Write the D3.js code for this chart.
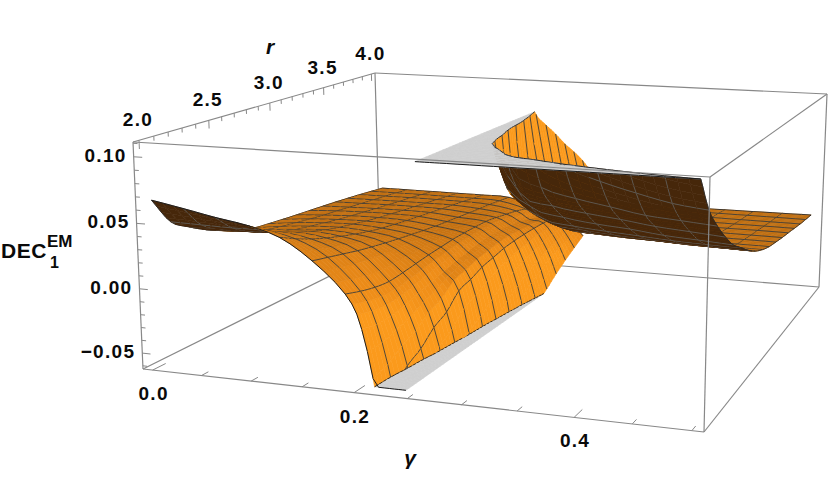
<!DOCTYPE html>
<html><head><meta charset="utf-8">
<script src="https://cdnjs.cloudflare.com/ajax/libs/d3/7.8.5/d3.min.js"></script>
<style>html,body{margin:0;padding:0;background:#fff}svg{display:block}text{font-family:"Liberation Sans",Arial,sans-serif;font-weight:700;fill:#0a0a0a}</style>
</head><body><svg id="c" width="830" height="502"></svg>
<script>
// ---------- data ----------
const rValues=[2,2.125,2.25,2.375,2.5,2.625,2.75,2.875,3,3.125,3.25,3.375,3.5,3.625,3.75,3.875,4];
const gammaLeft=[0,0.03125,0.0625,0.09375,0.125,0.15625,0.1875,0.203,0.21875,0.234,0.2445];
const zLeft=[
[.0665,.045,.036,.0285,.0225,.0175,.0143,.0128,.0115,.0105,.0095,.0085,.0075,.0062,.005,.0035,.002],
[.062,.0445,.0365,.0295,.024,.02,.0175,.0155,.0137,.012,.0108,.0093,.0079,.0065,.0052,.0036,.002],
[.0572,.044,.0365,.030,.0255,.022,.0195,.0172,.015,.0132,.0116,.0098,.0084,.0068,.0054,.0037,.002],
[.053,.044,.0375,.032,.0275,.0235,.0205,.018,.0155,.0135,.0118,.0100,.0085,.0069,.0054,.0037,.002],
[.046,.0395,.034,.0295,.0255,.022,.019,.0165,.0145,.0128,.0113,.0098,.0083,.0068,.0053,.0036,.002],
[.0305,.0275,.0245,.0215,.019,.0168,.0148,.013,.0112,.0098,.0086,.0074,.0064,.0053,.0043,.003,.0015],
[.008,.004,.001,-.0005,.0005,.002,.0035,.0045,.0055,.0058,.0058,.0055,.004,.002,.0,-.003,-.006],
[-.017,-.02,-.02,-.018,-.015,-.012,-.009,-.006,-.004,-.002,-.001,-.001,-.002,-.004,-.007,-.01,-.013],
[-.075,-.068,-.0575,-.051,-.041,-.035,-.024,-.0205,-.016,-.0135,-.011,-.0098,-.0092,-.009,-.0092,-.0098,-.011],
[-.15,-.135,-.12,-.11,-.10,-.09,-.08,-.07,-.06,-.05,-.043,-.037,-.032,-.028,-.025,-.023,-.021],
[-.3,-.28,-.26,-.24,-.22,-.2,-.17,-.14,-.12,-.1,-.08,-.065,-.057,-.049,-.042,-.036,-.03]
];
const gammaRight=[0.2525,0.2656,0.28125,0.3125,0.34375,0.375,0.40625,0.4375,0.46875,0.5];
const zRight=[
[.6,.55,.5,.45,.41,.37,.33,.29,.18,.13,.105,.0925,.081,.0685,.0575,.0455,.031],
[.45,.38,.32,.27,.22,.175,.125,.095,.08,.066,.053,.042,.033,.025,.018,.012,.0075],
[.32,.25,.19,.13,.09,.072,.056,.043,.033,.025,.019,.015,.0122,.0098,.0078,.0062,.004],
[.2,.15,.102,.0754,.0598,.0463,.0366,.028,.0212,.0164,.0134,.0114,.0099,.0084,.0069,.0057,.0032],
[.17,.122,.085,.0668,.0533,.0415,.0334,.0253,.0194,.0151,.0129,.0111,.0097,.0082,.0068,.0056,.0034],
[.145,.1055,.0786,.063,.05,.0393,.0312,.0239,.0188,.0146,.0127,.011,.0095,.0081,.0067,.0055,.0036],
[.128,.097,.0743,.0603,.048,.0377,.0298,.0232,.0183,.0143,.0125,.0108,.0094,.008,.0067,.0055,.0038],
[.118,.0905,.07,.057,.0452,.036,.0285,.0221,.0178,.014,.0123,.0107,.0093,.0079,.0066,.0055,.004],
[.112,.085,.068,.055,.0436,.035,.0278,.0215,.017,.0138,.0122,.0106,.0093,.0079,.0066,.0055,.0042],
[.108,.082,.066,.053,.042,.0345,.027,.021,.0167,.0137,.012,.0104,.0092,.0078,.0065,.0054,.0045]
];
const gammaTicks=[0,.05,.1,.15,.2,.25,.3,.35,.4,.45,.5];
const gammaLabels=[0,.2,.4];
const rTicks=d3.range(2,4.01,.1);
const rLabels=[2,2.5,3,3.5,4];
const zTicks=d3.range(-.06,.1101,.01);
const zLabels=[-.05,0,.05,.1];
// projection anchors: where the plot box corners fall on the page [x,y]
const boxBottom=[[143,369],[704,432],[819,287],[380,251]];
const boxTop=[[133,142],[710,177],[827,94],[375,73]];
const gammaRange=[-.01,.51], rRange=[1.96,4.04], zRange=[-.0625,.111];
const zClip=[-.0592,.1077];

// ---------- projection ----------
const U=d3.scaleLinear(gammaRange,[0,1]),V=d3.scaleLinear(rRange,[0,1]),W=d3.scaleLinear(zRange,[0,1]);
function quad(q){
 const [x0,y0]=q[0],[x1,y1]=q[1],[x2,y2]=q[2],[x3,y3]=q[3];
 const dx1=x1-x2,dy1=y1-y2,dx2=x3-x2,dy2=y3-y2,dx3=x0-x1+x2-x3,dy3=y0-y1+y2-y3;
 const den=dx1*dy2-dx2*dy1,g=(dx3*dy2-dx2*dy3)/den,h=(dx1*dy3-dx3*dy1)/den;
 const a=x1-x0+g*x1,b=x3-x0+h*x3,d=y1-y0+g*y1,e=y3-y0+h*y3;
 return (u,v)=>{const k=g*u+h*v+1;return [(a*u+b*v+x0)/k,(d*u+e*v+y0)/k];};
}
const H0=quad(boxBottom),H1=quad(boxTop);
function proj(g,r,z){
 const u=U(g),v=V(r),w0=W(z),w=w0*(.97+.03*w0);
 const B=H0(u,v),T=H1(u,v);
 return [B[0]+(T[0]-B[0])*w,B[1]+(T[1]-B[1])*w];
}
const cam=[1.3,-2.2,1.7];
function dist(g,r,z){const x=U(g)-cam[0],y=V(r)-cam[1],q=W(z)*.55-cam[2];return Math.sqrt(x*x+y*y+q*q);}

// ---------- surface sampling ----------
const cr=(a,b,c,d,t)=>.5*(2*b+(c-a)*t+(2*a-5*b+4*c-d)*t*t+(3*b-a-3*c+d)*t*t*t);
function sample1(arr,f){
 const n=arr.length-1,i=Math.min(n-1,Math.floor(f)),t=f-i;
 const at=k=>k<0?2*arr[0]-arr[1]:k>n?2*arr[n]-arr[n-1]:arr[k];
 return cr(at(i-1),at(i),at(i+1),at(i+2),t);
}
function sample2(tab,fi,fj){return sample1(tab.map(col=>sample1(col,fj)),fi);}

const items=[];
const path=pts=>"M"+pts.map(p=>p[0].toFixed(1)+","+p[1].toFixed(1)).join("L");
const orange=d3.scaleLinear([0,.5,1.5,3],["#bf6d10","#d27a14","#ec8b18","#fb9a1c"]).clamp(true);
const [zMin,zMax]=zClip;

function clipPoly(poly,keep,plane){
 const out=[];
 for(let k=0;k<poly.length;k++){
  const a=poly[k],b=poly[(k+1)%poly.length],ia=keep(a[2]),ib=keep(b[2]);
  if(ia)out.push(a);
  if(ia!==ib){const t=(plane-a[2])/(b[2]-a[2]);out.push([a[0]+(b[0]-a[0])*t,a[1]+(b[1]-a[1])*t,plane]);}
 }
 return out;
}
function clipSeg(a,b){
 let t0=0,t1=1;const dz=b[2]-a[2];
 const lim=(z,s)=>{ if(Math.abs(dz)<1e-12)return; const t=(z-a[2])/dz; if(dz*s>0)t1=Math.min(t1,t); else t0=Math.max(t0,t);};
 if((a[2]>zMax&&b[2]>zMax)||(a[2]<zMin&&b[2]<zMin))return null;
 lim(zMax,1);lim(zMin,-1);
 if(t0>=t1)return null;
 const P=t=>[a[0]+(b[0]-a[0])*t,a[1]+(b[1]-a[1])*t,a[2]+(b[2]-a[2])*t];
 return [P(t0),P(t1)];
}
const centroid=poly=>poly.reduce((s,p)=>[s[0]+p[0]/poly.length,s[1]+p[1]/poly.length,s[2]+p[2]/poly.length],[0,0,0]);
function addSeg(a,b,stroke,width,bias){
 const m=[(a[0]+b[0])/2,(a[1]+b[1])/2,(a[2]+b[2])/2];
 items.push({depth:dist(m[0],m[1],m[2])-bias,d:path([proj(...a),proj(...b)]),fill:"none",stroke,width});
}
const isMesh=g=>Math.abs(g*32-Math.round(g*32))<1e-6;

function buildBranch(gammas,tab,boundaryI){
 const subI=3,subJ=4;
 const n=gammas.length-1,m=rValues.length-1;
 for(let i=0;i<n;i++)for(let a=0;a<subI;a++)for(let j=0;j<m;j++)for(let b=0;b<subJ;b++){
  const fi0=i+a/subI,fi1=i+(a+1)/subI,fj0=j+b/subJ,fj1=j+(b+1)/subJ;
  const gOf=f=>sample1(gammas,f),rOf=f=>rValues[0]+(rValues[m]-rValues[0])*f/m;
  const c=(fi,fj)=>[gOf(fi),rOf(fj),sample2(tab,fi,fj)];
  const p00=c(fi0,fj0),p10=c(fi1,fj0),p11=c(fi1,fj1),p01=c(fi0,fj1);
  const poly=[p00,p10,p11,p01];
  const sc=poly.map(p=>proj(p[0],p[1],p[2]));
  let area=0;sc.forEach((s,k)=>{const t=sc[(k+1)%4];area+=s[0]*t[1]-t[0]*s[1];});
  const under=area>0;
  const du=U(p10[0])-U(p00[0])||1e-6,dv=V(p01[1])-V(p00[1])||1e-6;
  const wz=z=>W(z)*.55;
  const sg=((wz(p10[2])-wz(p00[2]))+(wz(p11[2])-wz(p01[2])))/2/du;
  const sr=((wz(p01[2])-wz(p00[2]))+(wz(p11[2])-wz(p10[2])))/2/dv;
  const tone=Math.sqrt(sg*sg+.3*sr*sr);
  const fill=under?"#46270a":orange(tone);
  const mid=clipPoly(clipPoly(poly,z=>z<=zMax,zMax),z=>z>=zMin,zMin);
  if(mid.length>2){
   const ce=centroid(mid);
   items.push({depth:dist(...ce),d:path(mid.map(p=>proj(...p)))+"Z",fill,stroke:fill,width:.6});
   for(let k=0;k<mid.length;k++){const x=mid[k],y=mid[(k+1)%mid.length];
    if((x[2]===zMax&&y[2]===zMax)||(x[2]===zMin&&y[2]===zMin))
     if(Math.hypot(x[0]-y[0],x[1]-y[1])>1e-9)addSeg(x,y,"#1c1c1c",.9,.012);}
  }
  const hi=clipPoly(poly,z=>z>=zMax,zMax).map(p=>[p[0],p[1],zMax]);
  if(hi.length>2){const ce=centroid(hi);items.push({depth:dist(...ce),d:path(hi.map(p=>proj(...p)))+"Z",fill:"#cfcfcf",stroke:"#cfcfcf",width:.6});}
  const lo=clipPoly(poly,z=>z<=zMin,zMin).map(p=>[p[0],p[1],zMin]);
  if(lo.length>2){const ce=centroid(lo);items.push({depth:dist(...ce),d:path(lo.map(p=>proj(...p)))+"Z",fill:"#cfcfcf",stroke:"#cfcfcf",width:.6});}
  const meshCol=under?"#5d5a55":"#3d3d3a";
  if(b===0&&j>0){const s=clipSeg(p00,p10);if(s)addSeg(s[0],s[1],meshCol,.9,.012);}
  if(a===0&&i>0&&isMesh(gammas[i])){const s=clipSeg(p00,p01);if(s)addSeg(s[0],s[1],meshCol,.9,.012);}
  const clamp=p=>[p[0],p[1],Math.max(zMin,Math.min(zMax,p[2]))];
  if(b===0&&j===0)addSeg(clamp(p00),clamp(p10),"#1c1c1c",1,.012);
  if(b===subJ-1&&j===m-1){const s=clipSeg(p01,p11);if(s)addSeg(s[0],s[1],"#2a2a2a",.9,.012);}
  if(i===0&&a===0&&boundaryI===0){const s=clipSeg(p00,p01);if(s)addSeg(s[0],s[1],"#2a2a2a",.9,.012);}
  if(i===n-1&&a===subI-1&&boundaryI===1){const s=clipSeg(p10,p11);if(s)addSeg(s[0],s[1],"#2a2a2a",.9,.012);}
 }
}
buildBranch(gammaLeft,zLeft,0);
buildBranch(gammaRight,zRight,1);
items.sort((p,q)=>q.depth-p.depth);

// ---------- drawing ----------
const svg=d3.select("#c");
const [gA,gB]=gammaRange,[rA,rB]=rRange,[zA,zB]=zRange;
const edge=(a,b)=>path([proj(...a),proj(...b)]);
const backEdges=[
 [[gA,rB,zA],[gB,rB,zA]],[[gA,rA,zA],[gA,rB,zA]],[[gB,rA,zA],[gB,rB,zA]],
 [[gA,rB,zA],[gA,rB,zB]],[[gB,rB,zA],[gB,rB,zB]],
 [[gA,rB,zB],[gB,rB,zB]],[[gA,rA,zB],[gA,rB,zB]],[[gB,rA,zB],[gB,rB,zB]]
];
const frontEdges=[
 [[gA,rA,zA],[gB,rA,zA]],[[gA,rA,zB],[gB,rA,zB]],
 [[gA,rA,zA],[gA,rA,zB]],[[gB,rA,zA],[gB,rA,zB]]
];
const boxCol="#888888";
svg.append("g").selectAll("path").data(backEdges).join("path").attr("d",e=>edge(e[0],e[1])).attr("fill","none").attr("stroke",boxCol).attr("stroke-width",1.2);
svg.append("g").selectAll("path").data(items).join("path").attr("d",d=>d.d).attr("fill",d=>d.fill).attr("stroke",d=>d.stroke).attr("stroke-width",d=>d.width).attr("stroke-linejoin","round");
svg.append("g").selectAll("path").data(frontEdges).join("path").attr("d",e=>edge(e[0],e[1])).attr("fill","none").attr("stroke",boxCol).attr("stroke-width",1.2);

const near=(v,list)=>list.some(l=>Math.abs(l-v)<1e-6);
const tickG=svg.append("g").attr("fill","none").attr("stroke",boxCol).attr("stroke-width",1);
tickG.selectAll("path.g").data(gammaTicks).join("path").attr("class","g").attr("d",g=>edge([g,rA,zA],[g,rA+(near(g,gammaLabels)?.09:.05),zA]));
tickG.selectAll("path.r").data(rTicks).join("path").attr("class","r").attr("d",r=>edge([gA,r,zB],[gA,r,zB-(near(r,rLabels)?.0065:.0035)]));
tickG.selectAll("path.z").data(zTicks).join("path").attr("class","z").attr("d",z=>edge([gA,rA,z],[gA+(near(z,zLabels)?.0085:.0045),rA,z]));

const fmt2=d3.format(".2f"),fmt1=d3.format(".1f");
const minus=s=>s.replace("-","\u2212");
const fs=19,ls=1.3;
function lab(sel,cls,data,txt,xf,yf,anchor){
 sel.selectAll("text."+cls).data(data).join("text").attr("class",cls).attr("x",xf).attr("y",yf).attr("text-anchor",anchor)
  .attr("font-size",fs).attr("letter-spacing",ls).attr("dominant-baseline","middle").text(txt);
}
const tg=svg.append("g");
lab(tg,"gl",gammaLabels,g=>fmt1(g),g=>proj(g,rA,zA)[0]+1,g=>proj(g,rA,zA)[1]+25,"middle");
lab(tg,"rl",rLabels,r=>fmt1(r),r=>proj(gA,r,zB)[0]-1,r=>proj(gA,r,zB)[1]-19,"middle");
lab(tg,"zl",zLabels,z=>minus(fmt2(z)),z=>proj(gA,rA,z)[0]-7,z=>proj(gA,rA,z)[1],"end");
tg.append("text").attr("x",270).attr("y",48).attr("text-anchor","middle").attr("dominant-baseline","middle").attr("font-size",21).attr("font-style","italic").text("r");
tg.append("text").attr("x",410).attr("y",459).attr("text-anchor","middle").attr("dominant-baseline","middle").attr("font-size",21).attr("font-style","italic").text("\u03b3");
tg.append("text").attr("x",1).attr("y",258).attr("font-size",21).attr("letter-spacing",.5).text("DEC");
tg.append("text").attr("x",50).attr("y",268).attr("font-size",16).text("1");
tg.append("text").attr("x",47).attr("y",247).attr("font-size",17).text("EM");
</script></body></html>
